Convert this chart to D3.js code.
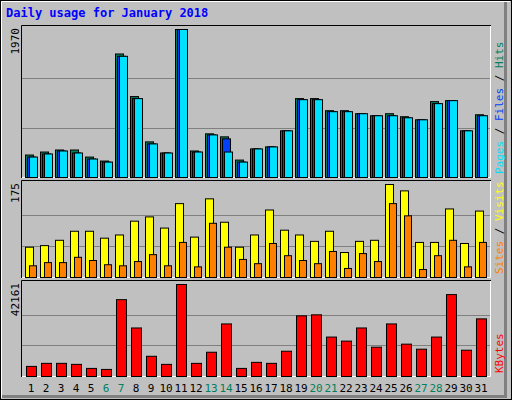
<!DOCTYPE html>
<html><head><meta charset="utf-8">
<script src="https://cdn.jsdelivr.net/npm/d3@7"></script>
<style>body{margin:0;background:#fff}svg text{font-family:"DejaVu Sans Mono",monospace}</style>
</head><body><svg id="c" width="512" height="400"></svg>
<script>
const days = d3.range(1, 32)
const weekends = [6, 7, 13, 14, 20, 21, 27, 28]
const hits = [299,339,366,366,272,219,1644,1077,474,326,1970,353,581,541,232,380,407,621,1050,1050,889,889,849,822,849,809,768,1010,1023,621,835]
const files = [272,313,353,326,246,205,1613,1050,447,326,1970,339,567,514,205,380,407,621,1036,1036,876,876,849,822,822,795,768,983,1023,621,822]
const pages = [272,313,353,326,246,205,1613,1050,447,326,1970,339,567,339,205,380,407,621,1036,1036,876,876,849,822,822,795,768,983,1023,621,822]
const visits = [57,60,70,87,87,74,80,106,114,93,139,76,148,104,57,80,127,89,80,68,87,47,68,70,175,163,66,66,129,64,125]
const sites = [22,28,28,38,32,24,22,30,43,22,66,20,102,57,34,26,64,41,32,26,49,17,45,30,139,116,15,41,70,20,66]
const kbytes = [4632,6022,6022,5559,3706,3243,35208,22237,9265,5559,42161,6022,11118,24089,3706,6486,6022,11582,27796,28260,18068,16214,22237,13435,24089,14824,12508,18068,37525,12045,26406]

const svg = d3.select("#c")
// outer frame
svg.append("rect").attr("x",0).attr("y",0).attr("width",512).attr("height",400).attr("fill","#c0c0c0")
svg.append("rect").attr("x",0.5).attr("y",0.5).attr("width",511).attr("height",399).attr("fill","none").attr("stroke","#000")
svg.append("path").attr("d","M1.5,398V1.5H510").attr("fill","none").attr("stroke","#fff")
svg.append("path").attr("d","M2,396.5H505.5V2").attr("fill","none").attr("stroke","#808080").attr("stroke-width",3)

svg.append("text").attr("x",6).attr("y",17).text("Daily usage for January 2018")
  .attr("fill","#0000ff").attr("font-weight","bold").attr("font-size",12)

const x = d3.scaleBand().domain(days).range([23.5, 488.5])

function panel(y0, y1, vmax, label, rlabels) {
  const g = svg.append("g")
  g.append("rect").attr("x",21).attr("y",y0).attr("width",470).attr("height",y1-y0).attr("fill","#c0c0c0")
  g.append("path").attr("d",`M21.5,${y1}V${y0+0.5}H491`).attr("fill","none").attr("stroke","#000")
  g.append("path").attr("d",`M22,${y1-0.5}H490.5V${y0+1}`).attr("fill","none").attr("stroke","#fff")
  const y = d3.scaleLinear().domain([0, vmax]).range([y1 - 1, y0 + 4])
  ;[1/3, 2/3].forEach(f => {
    const yy = Math.round(y(vmax * f)) + 0.5
    g.append("line").attr("x1",22).attr("x2",490).attr("y1",yy).attr("y2",yy).attr("stroke","#808080")
  })
  g.append("text").attr("transform",`translate(19,${y0+3}) rotate(-90)`).attr("text-anchor","end")
    .attr("font-size",11).text(label)
  const t = g.append("text").attr("transform",`translate(503,${y1-4}) rotate(-90)`).attr("font-size",11)
  rlabels.forEach((r, i) => {
    if (i) t.append("tspan").attr("fill","#000").text(" / ")
    t.append("tspan").attr("fill",r[1]).text(r[0])
  })
  return {g, y}
}

function bars(p, vals, off, w, color) {
  p.g.selectAll(null).data(vals).enter().append("rect")
    .attr("x",(d,i) => x(days[i]) + off + 0.5)
    .attr("y",d => p.y(d) + 0.5)
    .attr("width",w)
    .attr("height",d => p.y(0) - p.y(d))
    .attr("fill",color).attr("stroke","#000")
}

const p1 = panel(25, 178, 1970, "1970", [["Pages","#00e0ff"],["Files","#0040ff"],["Hits","#00805c"]])
bars(p1, hits, 1.5, 8, "#00805c")
bars(p1, files, 3.5, 8, "#0040ff")
bars(p1, pages, 5.5, 8, "#00e0ff")

const p2 = panel(180, 278, 175, "175", [["Sites","#ff8000"],["Visits","#ffff00"]])
bars(p2, visits, 1.5, 8, "#ffff00")
bars(p2, sites, 5.5, 7, "#ff8000")

const p3 = panel(280, 377, 42161, "42161", [["KBytes","#ff0000"]])
bars(p3, kbytes, 2.5, 10, "#ff0000")

svg.selectAll(".day").data(days).enter().append("text").attr("class","day")
  .attr("x",d => x(d) + x.bandwidth()/2).attr("y",392).attr("text-anchor","middle").attr("font-size",11)
  .attr("fill",d => weekends.includes(d) ? "#00805c" : "#000").text(d => d)
</script></body></html>
